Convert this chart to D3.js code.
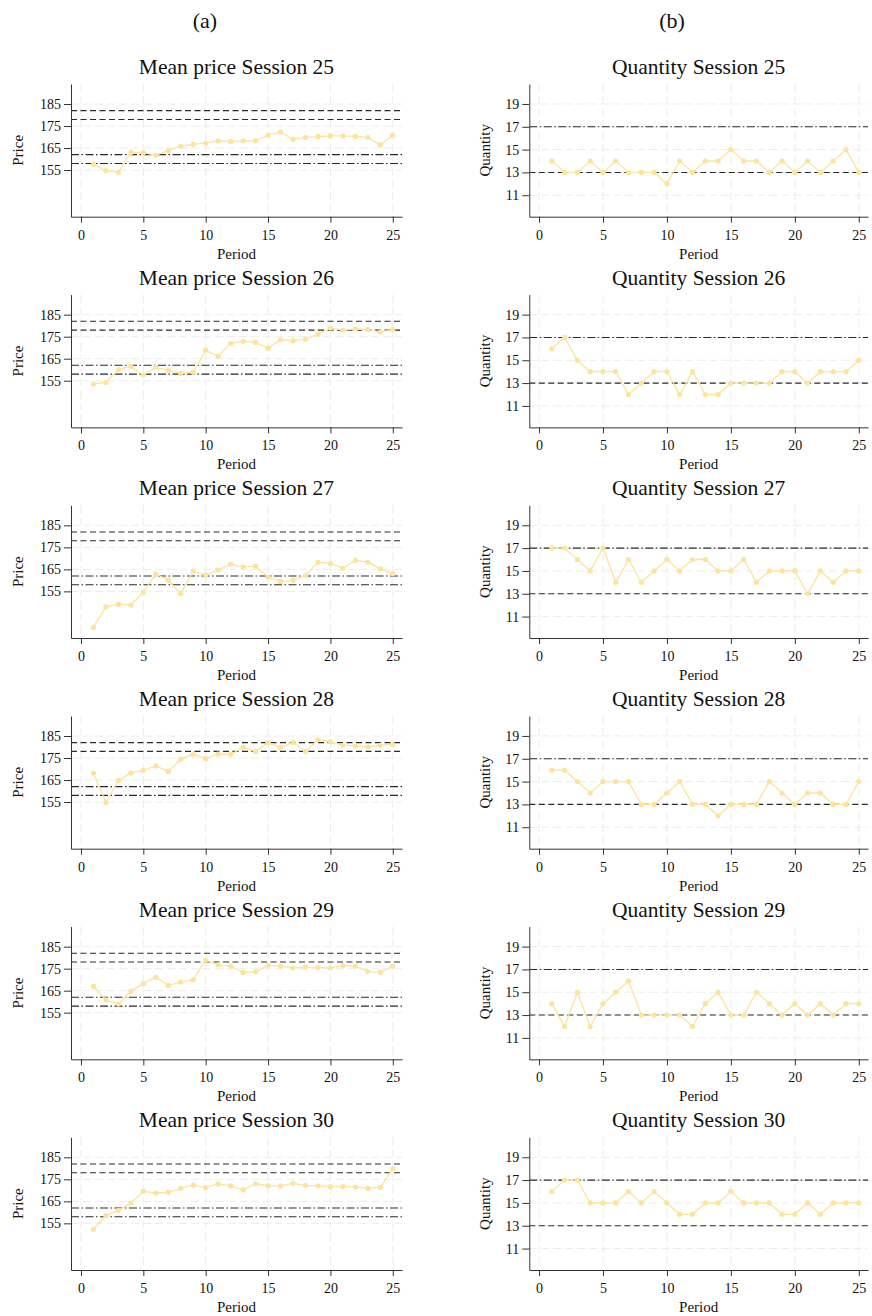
<!DOCTYPE html>
<html>
<head>
<meta charset="utf-8">
<script src="https://cdn.jsdelivr.net/npm/d3@7/dist/d3.min.js"></script>
<style>
  body { margin: 0; background: #fff; }
  text { font-family: "Liberation Serif", "Times New Roman", serif; fill: #111; }
</style>
</head>
<body>
<script>
var sessions = [25, 26, 27, 28, 29, 30];
var periods = [1, 2, 3, 4, 5, 6, 7, 8, 9, 10, 11, 12, 13, 14, 15, 16, 17, 18, 19, 20, 21, 22, 23, 24, 25];

var price25 = [157.6, 154.7, 154, 163, 162.9, 161.7, 163.8, 165.9, 166.7, 167.3, 168.2, 168, 168.3, 168.3, 170.9, 172.3, 169, 169.8, 170.2, 170.5, 170.5, 170.3, 169.8, 166.4, 170.8];
var price26 = [153.5, 154.2, 160, 161.5, 157.6, 161.1, 159.7, 158.3, 158.8, 168.8, 166.1, 172, 172.9, 172.4, 169.7, 173.6, 173.2, 173.9, 176.1, 178.9, 178, 178.5, 178.3, 177.1, 178.3];
var price27 = [138.6, 148, 149.2, 148.8, 154.7, 163, 160, 153.9, 164.2, 162.4, 164.7, 167.4, 166.1, 166.5, 161.5, 159.5, 160, 162.3, 168.2, 167.7, 165.5, 169.1, 168.3, 165.2, 163];
var price28 = [168.2, 154.8, 164.8, 168.2, 169.4, 171.4, 168.9, 174.5, 176.7, 174.7, 176.8, 176.7, 179.8, 178, 182.1, 179.8, 182.1, 178, 183.3, 182.4, 180.8, 180.5, 180, 180.8, 181.1];
var price29 = [167, 160.8, 158.9, 164.7, 168.3, 171.1, 167.4, 168.9, 170, 178.9, 176.7, 176.2, 173.3, 173.6, 176.5, 176.2, 175.3, 175.8, 175.5, 175.3, 176.4, 176.2, 173.8, 173.3, 176.2];
var price30 = [152.3, 158.5, 160.9, 164.2, 169.5, 168.8, 169.1, 170.9, 172.4, 171.2, 172.9, 172, 170.2, 173, 172.1, 172, 173.2, 172.3, 172, 171.7, 171.7, 171.5, 170.9, 171.4, 179.8];

var qty25 = [14, 13, 13, 14, 13, 14, 13, 13, 13, 12, 14, 13, 14, 14, 15, 14, 14, 13, 14, 13, 14, 13, 14, 15, 13];
var qty26 = [16, 17, 15, 14, 14, 14, 12, 13, 14, 14, 12, 14, 12, 12, 13, 13, 13, 13, 14, 14, 13, 14, 14, 14, 15];
var qty27 = [17, 17, 16, 15, 17, 14, 16, 14, 15, 16, 15, 16, 16, 15, 15, 16, 14, 15, 15, 15, 13, 15, 14, 15, 15];
var qty28 = [16, 16, 15, 14, 15, 15, 15, 13, 13, 14, 15, 13, 13, 12, 13, 13, 13, 15, 14, 13, 14, 14, 13, 13, 15];
var qty29 = [14, 12, 15, 12, 14, 15, 16, 13, 13, 13, 13, 12, 14, 15, 13, 13, 15, 14, 13, 14, 13, 14, 13, 14, 14];
var qty30 = [16, 17, 17, 15, 15, 15, 16, 15, 16, 15, 14, 14, 15, 15, 16, 15, 15, 15, 14, 14, 15, 14, 15, 15, 15];

var priceSeries = [price25, price26, price27, price28, price29, price30];
var qtySeries = [qty25, qty26, qty27, qty28, qty29, qty30];

var xTicks = [0, 5, 10, 15, 20, 25];
var priceTicks = [155, 165, 175, 185];
var qtyTicks = [11, 13, 15, 17, 19];

// reference lines: [value, style]
var priceRefs = [[182, 'dash'], [178, 'dash'], [162, 'dashdot'], [158, 'dashdot']];
var qtyRefs = [[17, 'dashdot'], [13, 'dash']];

var width = 872, height = 1316;
var rowStep = 210.66;
var plotTop = 84, plotH = 132.7;
var lineColor = '#fde39b';
var serif = '"Liberation Serif", "Times New Roman", serif';

var svg = d3.select('body')
    .append('svg')
    .attr('width', width)
    .attr('height', height);

svg.append('text').attr('x', 205).attr('y', 28)
    .attr('text-anchor', 'middle').style('font-size', '22px').text('(a)');
svg.append('text').attr('x', 672).attr('y', 28)
    .attr('text-anchor', 'middle').style('font-size', '22px').text('(b)');

var dashes = { dash: '6,3.5', dashdot: '8,2.5,1.5,2.5' };

function drawPanel(opt) {
    var top = opt.top, bottom = opt.top + plotH;
    var x = d3.scaleLinear().domain(opt.xdom).range([opt.left, opt.right]);
    var y = d3.scaleLinear().domain(opt.ydom).range([bottom, top]);

    var g = svg.append('g');

    // grid
    g.selectAll('.vg').data(xTicks).enter().append('line')
        .attr('x1', d => x(d)).attr('x2', d => x(d))
        .attr('y1', top).attr('y2', bottom)
        .attr('stroke', '#ececec').attr('stroke-width', 1)
        .attr('stroke-dasharray', '8,4');
    g.selectAll('.hg').data(opt.yticks).enter().append('line')
        .attr('x1', opt.left).attr('x2', opt.right)
        .attr('y1', d => y(d)).attr('y2', d => y(d))
        .attr('stroke', '#ececec').attr('stroke-width', 1)
        .attr('stroke-dasharray', '8,4');

    // reference lines
    g.selectAll('.ref').data(opt.refs).enter().append('line')
        .attr('x1', opt.left).attr('x2', opt.right)
        .attr('y1', d => y(d[0])).attr('y2', d => y(d[0]))
        .attr('stroke', '#2a2a2a').attr('stroke-width', 1.1)
        .attr('stroke-dasharray', d => dashes[d[1]]);

    // axes
    var xAxis = d3.axisBottom(x).tickValues(xTicks).tickSize(6).tickSizeOuter(0);
    var xg = g.append('g').attr('transform', 'translate(0,' + bottom + ')').call(xAxis);
    var yAxis = d3.axisLeft(y).tickValues(opt.yticks).tickSize(7).tickSizeOuter(0).tickPadding(3);
    var yg = g.append('g').attr('transform', 'translate(' + opt.left + ',0)').call(yAxis);
    [xg, yg].forEach(function (a) {
        a.attr('font-family', serif).attr('font-size', 14);
        a.select('.domain').attr('stroke', '#333');
        a.selectAll('.tick line').attr('stroke', '#333');
        a.selectAll('.tick text').style('font-size', '14px')
            .style('font-family', serif).attr('fill', '#111');
    });
    xg.selectAll('.tick text').attr('dy', '1.0em');

    // series
    var pts = periods.map((p, i) => ({ p: p, v: opt.values[i] }));
    var line = d3.line().x(d => x(d.p)).y(d => y(d.v));
    g.append('path').datum(pts)
        .attr('fill', 'none').attr('stroke', lineColor).attr('stroke-width', 1.3)
        .attr('d', line);
    g.selectAll('.pt').data(pts).enter().append('circle')
        .attr('cx', d => x(d.p)).attr('cy', d => y(d.v)).attr('r', 2.6)
        .attr('fill', lineColor);

    // labels
    var cx = (opt.left + opt.right) / 2;
    g.append('text').attr('x', cx).attr('y', top - 10)
        .attr('text-anchor', 'middle').style('font-size', '21.5px').text(opt.title);
    g.append('text').attr('x', cx).attr('y', bottom + 42)
        .attr('text-anchor', 'middle').style('font-size', '15px').text('Period');
    g.append('text')
        .attr('transform', 'translate(' + opt.ylabX + ',' + (top + bottom) / 2 + ') rotate(-90)')
        .attr('text-anchor', 'middle').attr('dy', '0.35em')
        .style('font-size', '15px').text(opt.ylabel);
}

sessions.forEach(function (s, i) {
    var top = plotTop + rowStep * i;
    drawPanel({
        top: top, left: 71, right: 402, xdom: [-0.8, 25.74],
        ydom: [133.8, 194.1], yticks: priceTicks, refs: priceRefs,
        values: priceSeries[i], title: 'Mean price Session ' + s,
        ylabel: 'Price', ylabX: 18
    });
    drawPanel({
        top: top, left: 529.3, right: 868, xdom: [-0.76, 25.72],
        ydom: [9.12, 20.75], yticks: qtyTicks, refs: qtyRefs,
        values: qtySeries[i], title: 'Quantity Session ' + s,
        ylabel: 'Quantity', ylabX: 485
    });
});
</script>
</body>
</html>
